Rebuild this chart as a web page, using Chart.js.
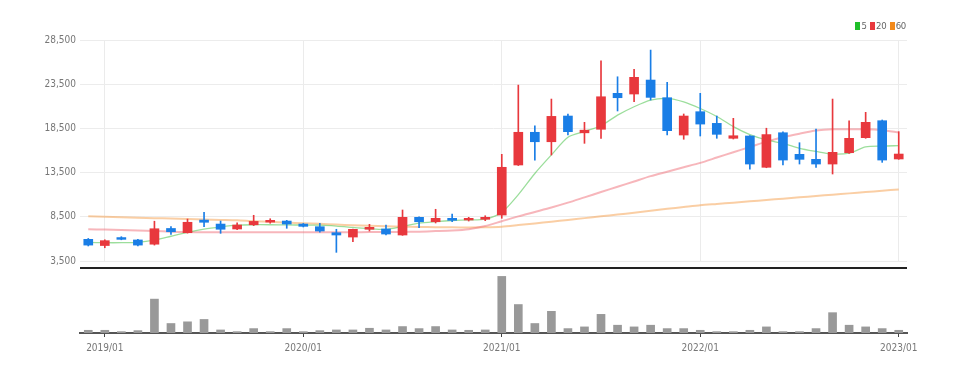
<!DOCTYPE html>
<html lang="en">
<head>
  <meta charset="UTF-8" />
  <title>Monthly Candles</title>
  <script src="https://cdn.jsdelivr.net/npm/chart.js"></script>
  <style>
    body {
      margin: 0;
      background: #ffffff;
      width: 960px;
      height: 373px;
      overflow: hidden;
      position: relative;
      font-family: 'Liberation Sans Narrow', 'DejaVu Sans Condensed', sans-serif;
    }
    #priceBox { position: absolute; left: 0; top: 0; width: 960px; height: 275px; }
    #volBox { position: absolute; left: 0; top: 268px; width: 960px; height: 105px; }
    .divider {
      position: absolute;
      left: 80px;
      top: 267px;
      width: 827px;
      height: 2px;
      background: #222;
    }
    .legend {
      position: absolute;
      top: 20px;
      right: 54px;
      font-size: 9.5px;
      letter-spacing: -0.3px;
      color: #666;
    }
    .legend span.box {
      display: inline-block;
      width: 5px;
      height: 8px;
      margin: 0 1px 0 1px;
      vertical-align: -1px;
    }
  </style>
</head>
<body>
  <div id="priceBox"><canvas id="priceChart"></canvas></div>
  <div class="divider"></div>
  <div id="volBox"><canvas id="volChart"></canvas></div>
  <div class="legend"><span class="box" style="background:#1fbf2a"></span>5 <span class="box" style="background:#e8383d"></span>20 <span class="box" style="background:#f28a1c"></span>60</div>

  <script>
    // monthly bars, 2018/12 .. 2023/01
    const months = [
      '2018/12',
      '2019/01','2019/02','2019/03','2019/04','2019/05','2019/06','2019/07','2019/08','2019/09','2019/10','2019/11','2019/12',
      '2020/01','2020/02','2020/03','2020/04','2020/05','2020/06','2020/07','2020/08','2020/09','2020/10','2020/11','2020/12',
      '2021/01','2021/02','2021/03','2021/04','2021/05','2021/06','2021/07','2021/08','2021/09','2021/10','2021/11','2021/12',
      '2022/01','2022/02','2022/03','2022/04','2022/05','2022/06','2022/07','2022/08','2022/09','2022/10','2022/11','2022/12',
      '2023/01'
    ];

    const opens  = [5950,5250,6150,5880,5400,7180,6700,8130,7680,7120,7600,7900,8020,7680,7380,6700,6210,7090,7120,6440,8440,7940,8330,8140,8220,
                    8700,14360,18060,16990,19900,18000,18400,22470,22390,23970,21970,17750,20390,19070,17380,17640,14100,18010,15570,15000,14470,15750,17450,19370,15040];
    const highs  = [6050,5900,6250,5950,8000,7380,8250,9000,8020,7830,8670,8280,8100,7750,7760,7090,7100,7650,7570,9270,8500,9350,8820,8440,8620,
                    15570,23400,18800,21820,20130,19190,26150,24340,25180,27360,23700,20130,22470,19900,19640,17700,18520,18100,16880,18430,21820,19370,20320,19450,18130];
    const lows   = [5200,5000,5900,5200,5300,6520,6650,7380,6630,7050,7500,7770,7200,7350,6750,4480,5680,6890,6440,6400,7270,7800,7940,8020,8060,
                    8330,14300,14920,15490,17750,16810,17380,20470,21520,21710,17750,17270,17640,17380,17300,13900,14050,14360,14470,14100,13340,15680,17380,14660,15000];
    const closes = [5300,5800,5950,5300,7150,6810,7880,7880,7090,7570,7980,8100,7680,7420,6890,6440,7085,7310,6550,8440,7940,8330,8100,8330,8440,
                    14100,18060,16990,19860,18130,18300,22080,21970,24280,22010,18240,19900,18990,17830,17670,14470,17800,14920,15000,14470,15790,17380,19190,14920,15600];

    const ma5  = [5600,5570,5570,5600,5850,6300,6750,7100,7350,7550,7600,7600,7580,7570,7550,7450,7300,7150,7080,7400,7780,7950,8080,8150,8250,
                  9000,11000,13400,15500,17500,18150,18800,20000,20950,21700,21900,21500,20750,19850,18700,17800,17200,16800,16250,15900,15600,15700,16400,16500,16550];
    const ma20 = [7100,7050,7000,6950,6900,6820,6770,6760,6760,6750,6750,6750,6750,6750,6750,6750,6760,6770,6780,6780,6820,6880,6950,7100,7450,
                  8000,8550,9050,9550,10100,10700,11300,11900,12500,13100,13600,14100,14600,15200,15800,16400,17000,17500,17900,18250,18400,18400,18400,18300,18050];
    const ma60 = [8550,8500,8450,8400,8350,8300,8250,8200,8150,8100,8000,7930,7850,7770,7700,7620,7550,7480,7420,7380,7350,7330,7310,7300,7310,
                  7380,7560,7750,7950,8150,8350,8550,8750,8950,9180,9400,9600,9800,9950,10100,10250,10400,10550,10700,10850,11000,11150,11300,11450,11600];

    const volumes = [80000,80000,40000,70000,1000000,280000,330000,400000,90000,40000,130000,40000,130000,40000,70000,90000,90000,140000,90000,190000,130000,190000,90000,80000,90000,
                     1670000,840000,280000,640000,130000,180000,550000,230000,180000,230000,130000,130000,80000,40000,40000,80000,180000,40000,40000,130000,600000,230000,180000,130000,80000];

    const UP = '#e8383d';
    const DOWN = '#1a7ee6';
    const candleColors = opens.map((o, i) => closes[i] >= o ? UP : DOWN);
    const isYear = (i) => months[i] && months[i].endsWith('/01');
    const fontFamily = "'Liberation Sans Narrow', 'DejaVu Sans Condensed', sans-serif";

    new Chart(document.getElementById('priceChart'), {
      type: 'bar',
      data: {
        labels: months,
        datasets: [
          {
            label: 'body',
            data: opens.map((o, i) => [o, closes[i]]),
            backgroundColor: candleColors,
            barThickness: 9,
            grouped: false,
            order: 0
          },
          {
            label: 'wick',
            data: lows.map((l, i) => [l, highs[i]]),
            backgroundColor: candleColors,
            barThickness: 1,
            grouped: false,
            order: 1
          },
          {
            type: 'line', label: '5', data: ma5,
            borderColor: 'rgba(90,200,90,0.6)', borderWidth: 1.3,
            pointRadius: 0, tension: 0.25, order: 3
          },
          {
            type: 'line', label: '20', data: ma20,
            borderColor: 'rgba(240,110,120,0.5)', borderWidth: 2,
            pointRadius: 0, tension: 0.25, order: 4
          },
          {
            type: 'line', label: '60', data: ma60,
            borderColor: 'rgba(245,165,90,0.55)', borderWidth: 2,
            pointRadius: 0, tension: 0.25, order: 5
          }
        ]
      },
      options: {
        responsive: true,
        maintainAspectRatio: false,
        animation: false,
        layout: { padding: { top: 40, right: 53, bottom: 14, left: 0 } },
        plugins: { legend: { display: false }, tooltip: { enabled: false } },
        scales: {
          x: {
            ticks: { display: false },
            border: { display: false },
            grid: {
              offset: false,
              drawTicks: false,
              color: (ctx) => isYear(ctx.index) ? '#ebebeb' : 'transparent'
            }
          },
          y: {
            min: 3500,
            max: 28500,
            afterFit: (scale) => { scale.width = 80; },
            border: { display: false },
            grid: { color: '#ececec', drawTicks: false },
            ticks: {
              stepSize: 5000,
              padding: 4,
              color: '#777',
              font: { family: fontFamily, size: 10 },
              callback: (v) => v.toLocaleString('en-US')
            }
          }
        }
      }
    });

    new Chart(document.getElementById('volChart'), {
      type: 'bar',
      data: {
        labels: months,
        datasets: [{
          label: 'volume',
          data: volumes,
          backgroundColor: '#999999',
          barThickness: 8
        }]
      },
      options: {
        responsive: true,
        maintainAspectRatio: false,
        animation: false,
        layout: { padding: { top: 4, right: 53, bottom: 14, left: 80 } },
        plugins: { legend: { display: false }, tooltip: { enabled: false } },
        scales: {
          x: {
            border: { color: '#555', width: 2 },
            grid: {
              offset: false,
              drawOnChartArea: false,
              tickLength: 4,
              color: (ctx) => isYear(ctx.index) ? '#444' : 'transparent'
            },
            ticks: {
              autoSkip: false,
              maxRotation: 0,
              padding: 5,
              color: '#777',
              font: { family: fontFamily, size: 10 },
              callback: (v, i) => isYear(i) ? months[i] : ''
            }
          },
          y: {
            display: false,
            min: 0,
            max: 1800000
          }
        }
      }
    });
  </script>
</body>
</html>
